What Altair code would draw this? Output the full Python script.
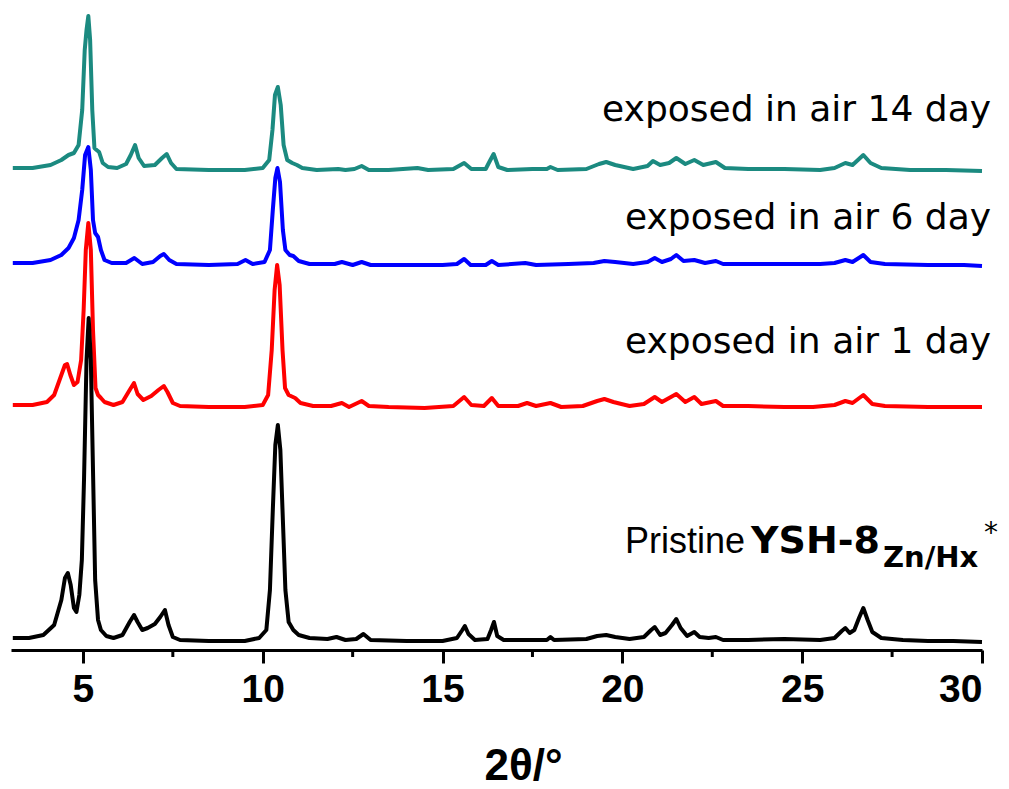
import altair as alt
import pandas as pd

# ---- data (2theta, stacked intensity in plot units) ----
teal_x = [3.05, 3.6, 4.1, 4.4, 4.6, 4.75, 4.88, 4.98, 5.05, 5.1, 5.15, 5.2, 5.26, 5.32, 5.38, 5.45, 5.55, 5.7, 5.95,
          6.2, 6.33, 6.45, 6.55, 6.7, 7.0, 7.2, 7.33, 7.45, 7.6, 8.5, 9.5, 10.0, 10.18, 10.27, 10.34, 10.42, 10.5,
          10.58, 10.68, 10.82, 10.95, 11.1, 11.5, 12.1, 12.3, 12.55, 12.75, 12.95, 13.5, 14.3, 14.6, 15.3, 15.6,
          15.8, 16.2, 16.3, 16.42, 16.55, 16.8, 17.5, 17.9, 18.0, 18.2, 19.0, 19.35, 19.55, 19.8, 20.3, 20.7,
          20.85, 21.05, 21.3, 21.5, 21.75, 22.0, 22.25, 22.6, 22.85, 23.5, 24.5, 25.5, 25.9, 26.2, 26.4, 26.7,
          26.9, 27.2, 28.0, 29.0, 30.0]
teal_y = [482, 482, 485, 490, 495, 497, 505, 540, 600, 620, 634, 610, 540, 502, 500, 498, 487, 483, 482,
          486, 495, 505, 492, 484, 485, 492, 496, 487, 481, 480, 480, 482, 490, 520, 555, 563, 545,
          505, 490, 487, 485, 482, 480, 481, 480, 481, 484, 480, 480, 482, 480, 481, 487,
          481, 481, 488, 496, 483, 480, 481, 481, 483, 480, 481, 486, 488, 485, 481, 484,
          489, 485, 487, 492, 486, 490, 485, 488, 482, 481, 481, 480, 482, 487, 485, 495,
          487, 482, 480, 480, 479]

blue_x = [3.05, 3.6, 4.1, 4.4, 4.6, 4.75, 4.88, 4.98, 5.06, 5.15, 5.22, 5.28, 5.34, 5.42, 5.5, 5.6, 5.8, 6.2,
          6.43, 6.65, 6.95, 7.15, 7.25, 7.4, 7.6, 8.5, 9.3, 9.52, 9.72, 10.05, 10.2, 10.28, 10.35, 10.41, 10.48,
          10.56, 10.63, 10.75, 10.85, 11.0, 11.3, 12.0, 12.2, 12.5, 12.75, 13.0, 14.0, 15.0, 15.4, 15.6, 15.78,
          16.2, 16.37, 16.55, 17.3, 17.6, 18.5, 19.2, 19.5, 19.8, 20.3, 20.7, 20.9, 21.1, 21.35, 21.5, 21.7,
          22.0, 22.3, 22.6, 22.8, 23.5, 24.5, 25.5, 25.9, 26.2, 26.4, 26.7, 26.9, 27.3, 28.5, 29.5, 30.0]
blue_y = [387, 387, 390, 395, 402, 412, 430, 460, 495, 503, 480, 430, 417, 413, 400, 390, 387, 387,
          392, 386, 388, 394, 396, 390, 386, 385, 386, 390, 386, 388, 400, 440, 472, 482, 468,
          420, 400, 395, 394, 389, 386, 386, 388, 385, 388, 385, 385, 385, 386, 391, 385,
          385, 389, 385, 387, 385, 386, 387, 389, 388, 386, 388, 392, 388, 391, 395, 389,
          390, 387, 389, 386, 386, 386, 386, 387, 390, 388, 395, 388, 386, 385, 385, 384]

red_x = [3.05, 3.6, 4.0, 4.2, 4.35, 4.5, 4.56, 4.65, 4.75, 4.85, 4.95, 5.02, 5.08, 5.15, 5.22, 5.28, 5.35, 5.42,
         5.5, 5.6, 5.85, 6.1, 6.3, 6.42, 6.52, 6.68, 6.9, 7.1, 7.25, 7.35, 7.5, 7.7, 8.5, 9.5, 10.0, 10.15,
         10.25, 10.33, 10.4, 10.47, 10.55, 10.62, 10.72, 10.9, 11.05, 11.4, 11.9, 12.2, 12.4, 12.75, 12.95,
         13.5, 14.5, 15.3, 15.6, 15.8, 16.15, 16.37, 16.55, 17.1, 17.35, 17.6, 18.0, 18.3, 18.9, 19.3, 19.5,
         19.75, 20.2, 20.6, 20.9, 21.1, 21.5, 21.75, 22.0, 22.2, 22.6, 22.8, 23.5, 24.5, 25.3, 25.9, 26.2,
         26.4, 26.7, 26.95, 27.3, 28.5, 29.5, 30.0]
red_y = [245, 245, 248, 255, 270, 285, 286, 275, 265, 268, 290, 340, 400, 427, 400, 320, 262, 255,
         252, 248, 245, 248, 260, 267, 256, 250, 254, 260, 264, 258, 247, 244, 243, 243, 245, 255,
         300, 360, 385, 365, 300, 262, 255, 252, 247, 244, 244, 247, 243, 249, 244,
         243, 242, 244, 253, 245, 244, 252, 244, 244, 247, 244, 247, 243, 244, 249, 251,
         248, 244, 246, 253, 248, 256, 248, 253, 246, 249, 244, 244, 243, 243, 245, 249,
         247, 255, 246, 244, 243, 243, 243]

black_x = [3.05, 3.5, 3.9, 4.2, 4.4, 4.5, 4.58, 4.66, 4.75, 4.82, 4.9, 4.97, 5.03, 5.1, 5.16, 5.22, 5.28, 5.34,
           5.42, 5.5, 5.65, 5.85, 6.1, 6.3, 6.42, 6.52, 6.65, 6.8, 7.0, 7.15, 7.28, 7.38, 7.5, 7.7, 8.5, 9.5,
           9.9, 10.1, 10.2, 10.28, 10.35, 10.42, 10.49, 10.56, 10.63, 10.72, 10.85, 11.0, 11.3, 11.8, 12.05,
           12.3, 12.6, 12.8, 13.0, 14.0, 15.0, 15.4, 15.55, 15.62, 15.72, 15.9, 16.25, 16.35, 16.43, 16.52,
           16.7, 17.5, 17.9, 18.0, 18.1, 19.0, 19.3, 19.55, 19.8, 20.2, 20.6, 20.8, 20.9, 21.05, 21.2, 21.38,
           21.5, 21.62, 21.8, 22.0, 22.15, 22.4, 22.6, 22.8, 23.5, 24.5, 25.5, 25.9, 26.1, 26.2, 26.32, 26.45,
           26.58, 26.7, 26.82, 26.95, 27.2, 27.8, 28.5, 29.2, 30.0]
black_y = [12, 12, 15, 25, 50, 72, 77, 65, 42, 38, 55, 90, 170, 290, 332, 290, 180, 70,
           30, 20, 14, 12, 15, 28, 35, 28, 20, 22, 26, 33, 40, 25, 13, 10, 9, 9,
           12, 20, 60, 140, 205, 225, 200, 130, 60, 28, 20, 15, 12, 11, 13,
           10, 11, 16, 10, 9, 9, 12, 20, 24, 16, 10, 11, 20, 28, 14,
           10, 10, 10, 13, 10, 11, 14, 15, 13, 11, 13, 20, 23, 15, 17, 25,
           31, 22, 14, 18, 13, 12, 13, 10, 10, 11, 10, 12, 19, 22, 17, 20,
           32, 42, 30, 18, 12, 10, 9, 9, 8]

series_colors = ["#1b8a80", "#0000ff", "#ff0000", "#000000"]
x_ticks = [5, 10, 15, 20, 25, 30]
minor_ticks = [7.5, 12.5, 17.5, 22.5, 27.5]
day_labels = ["exposed in air 14 day", "exposed in air 6 day", "exposed in air 1 day"]
pristine_parts = ["Pristine", "YSH-8", "Zn/Hx", "*"]

W, H = 971, 640
xs = alt.Scale(domain=[3, 30], nice=False, zero=False)
ys = alt.Scale(domain=[0, 640], nice=False, zero=False)

x_axis = alt.Axis(values=x_ticks, grid=False, domainColor="black", domainWidth=3,
                  tickColor="black", tickWidth=3, tickSize=13,
                  labelFont="Liberation Sans", labelFontSize=39, labelFontWeight="bold",
                  labelColor="black", labelPadding=7,
                  title="2θ/°", titleFont="Liberation Sans", titleFontSize=44,
                  titleFontWeight="bold", titleColor="black",
                  titleX=512, titleY=129, titleBaseline="alphabetic", titleAlign="center")


def trace(xv, yv, color):
    df = pd.DataFrame({"x": xv, "y": yv})
    return alt.Chart(df).mark_line(color=color, strokeWidth=4, strokeJoin="round").encode(
        x=alt.X("x:Q", scale=xs, axis=x_axis),
        y=alt.Y("y:Q", scale=ys, axis=None),
    )


layers = [
    trace(teal_x, teal_y, series_colors[0]),
    trace(blue_x, blue_y, series_colors[1]),
    trace(red_x, red_y, series_colors[2]),
    trace(black_x, black_y, series_colors[3]),
]

minor = alt.Chart(pd.DataFrame({"x": minor_ticks})).mark_rule(color="black", strokeWidth=3).encode(
    x=alt.X("x:Q", scale=xs, axis=x_axis), y=alt.value(H), y2=alt.value(H + 7))
layers.append(minor)


def label(text, x, y, size, weight="normal", align="right", font="DejaVu Sans"):
    return alt.Chart(pd.DataFrame({"t": [text]})).mark_text(
        font=font, fontSize=size, fontWeight=weight, align=align,
        baseline="alphabetic", color="black").encode(
        x=alt.value(x), y=alt.value(y), text="t:N")


layers += [
    label(day_labels[0], 980, 111, 36),
    label(day_labels[1], 980, 219, 36),
    label(day_labels[2], 980, 343, 36),
    label(pristine_parts[0], 614, 543, 36, align="left", font="Liberation Sans"),
    label(pristine_parts[1], 740, 543, 38, weight="bold", align="left"),
    label(pristine_parts[2], 872, 557, 29, weight="bold", align="left"),
    label(pristine_parts[3], 973, 532, 28, align="left"),
]

chart = alt.layer(*layers).properties(
    width=W, height=H, background="white",
    padding={"left": 2, "top": 2, "right": 0, "bottom": 0},
).configure_view(strokeWidth=0, stroke="transparent")

chart.save("out.html", embed_options={"renderer": "svg", "actions": False})
